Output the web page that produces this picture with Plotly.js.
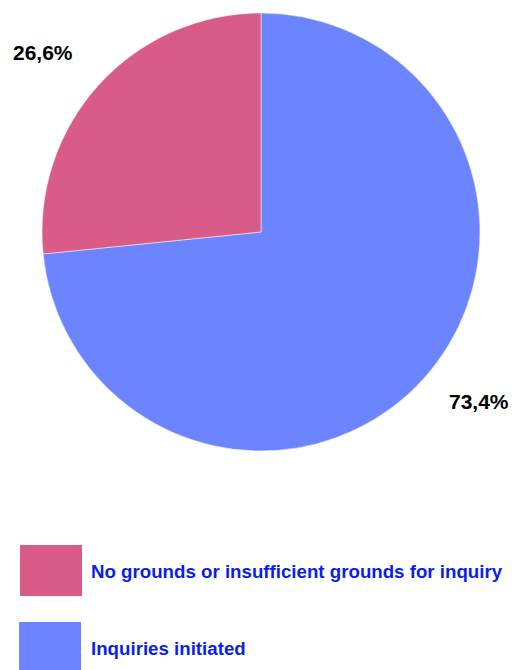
<!DOCTYPE html>
<html>
<head>
<meta charset="utf-8">
<script src="https://cdn.plot.ly/plotly-3.0.1.min.js"></script>
<style>html,body{margin:0;padding:0;background:#fff;}#chart{width:514px;height:670px;}</style>
</head>
<body>
<div id="chart"></div>
<script>
const categories = ["No grounds or insufficient grounds for inquiry", "Inquiries initiated"];
const values = [26.6, 73.4];
const colors = ["#D95B87", "#6C84FE"];

const W = 514, H = 670;
const domX = [0.0817, 0.9339], domY = [0.3239, 0.9836];
const cx = (domX[0] + domX[1]) / 2 * W;
const cyPx = H - (domY[0] + domY[1]) / 2 * H;
const R = Math.min((domX[1]-domX[0])*W, (domY[1]-domY[0])*H) / 2;

const total = values.reduce((a,b)=>a+b,0);
const fmt = v => v.toFixed(1).replace('.', ',') + '%';

const annotations = [];
let cum = 0;
values.forEach((v, i) => {
  const mid = (cum + v/2) / total * 2 * Math.PI + 3.5 * Math.PI / 180; // counterclockwise from top
  cum += v;
  const rr = R * 1.275;
  const px = cx - Math.sin(mid) * rr;
  const py = cyPx - Math.cos(mid) * rr;
  annotations.push({
    x: px / W, y: 1 - py / H, xref: 'paper', yref: 'paper', yshift: 5,
    text: '<b>' + fmt(v / total * 100) + '</b>', showarrow: false,
    font: {family: 'Liberation Sans, Arial, sans-serif', size: 21, color: '#000'},
    xanchor: 'center', yanchor: 'middle'
  });
});

// custom legend
const shapes = [];
const legTop = [545, 622];
categories.forEach((c, i) => {
  const y0 = legTop[i], y1 = legTop[i] + 51;
  const x0 = i === 0 ? 20 : 19;
  shapes.push({type: 'rect', xref: 'paper', yref: 'paper',
    x0: x0 / W, x1: (x0 + 62) / W, y0: 1 - y1 / H, y1: 1 - y0 / H,
    fillcolor: colors[i], line: {width: 0}});
  annotations.push({
    x: 89 / W, y: 1 - (y0 + 26) / H, xref: 'paper', yref: 'paper',
    text: '<b>' + c + '</b>', showarrow: false, xanchor: 'left', yanchor: 'middle',
    font: {family: 'Liberation Sans, Arial, sans-serif', size: 18.7, color: '#0A1EE6'}
  });
});

// drawn clockwise from 12 o'clock: blue first, so pink ends at 12 on the left side
const data = [{
  type: 'pie',
  labels: categories.slice().reverse(),
  values: values.slice().reverse(),
  sort: false,
  direction: 'clockwise',
  rotation: 0,
  marker: {colors: colors.slice().reverse(), line: {color: '#ffffff', width: 0.5}},
  textinfo: 'none',
  hoverinfo: 'label+percent',
  domain: {x: domX, y: domY},
  showlegend: false
}];

const layout = {
  width: W, height: H,
  margin: {l: 0, r: 0, t: 0, b: 0},
  paper_bgcolor: '#fff',
  showlegend: false,
  annotations: annotations,
  shapes: shapes
};

Plotly.newPlot('chart', data, layout, {displayModeBar: false, staticPlot: true});
</script>
</body>
</html>
